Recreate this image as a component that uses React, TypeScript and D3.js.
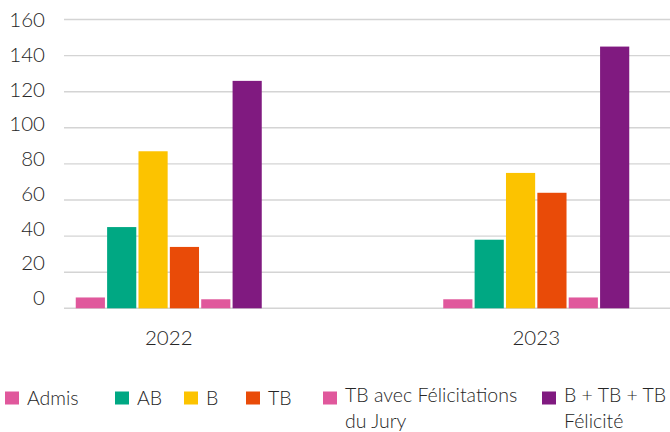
import * as d3 from "d3";
import React from "react";

const years = ["2022", "2023"];
const series = ["Admis", "AB", "B", "TB", "TB avec Félicitations du Jury", "B + TB + TB Félicité"];
const colors = ["#E0589C", "#00A883", "#FCC300", "#E94B08", "#E0589C", "#801A80"];
const values2022 = [6, 45, 87, 34, 5, 126];
const values2023 = [5, 38, 75, 64, 6, 145];
const yTicks = [0, 20, 40, 60, 80, 100, 120, 140, 160];
const legendLines = [["Admis"], ["AB"], ["B"], ["TB"], ["TB avec Félicitations", "du Jury"], ["B + TB + TB", "Félicité"]];

const W = 670;
const H = 432;
const font = "Lato, 'Open Sans', sans-serif";
const ink = "#262626";

const App: React.FC = () => {
  const byYear: Record<string, number[]> = { "2022": values2022, "2023": values2023 };

  const y = d3.scaleLinear().domain([0, 160]).range([308.3, 19.5]);
  // tick labels sit on a slightly tighter spacing than the grid in the original
  const yLabel = d3.scaleLinear().domain([0, 160]).range([297.5, 20]);

  const x0 = d3.scaleBand<string>().domain(years).range([-15, 720]);
  const groupW = 186;
  const x1 = d3.scaleBand<string>().domain(series).range([0, groupW]).paddingInner(0.07);

  const legendX = [5, 115, 184, 246, 323, 542];

  return (
    <svg width={W} height={H} style={{ position: "absolute", left: 0, top: 0 }} fontFamily={font}>
      <rect width={W} height={H} fill="#fff" />
      {yTicks.map((t) => (
        <g key={t}>
          <line x1={64} x2={W} y1={y(t)} y2={y(t)} stroke="#d4d4d4" strokeWidth={1.4} />
          <text x={45} y={yLabel(t)} dy="0.36em" textAnchor="end" fontSize={20.5} fontWeight={300} fill={ink}>
            {t}
          </text>
        </g>
      ))}
      {years.map((yr) => {
        const start = x0(yr)! + (x0.bandwidth() - groupW) / 2;
        return (
          <g key={yr}>
            {series.map((s, i) => {
              const v = byYear[yr][i];
              return (
                <rect
                  key={s}
                  x={start + x1(s)!}
                  y={y(v)}
                  width={x1.bandwidth()}
                  height={y(0) - y(v)}
                  fill={colors[i]}
                />
              );
            })}
            <text
              x={x0(yr)! + x0.bandwidth() / 2}
              y={344.5}
              textAnchor="middle"
              fontSize={20.5}
              fontWeight={300}
              fill={ink}
            >
              {yr}
            </text>
          </g>
        );
      })}
      {series.map((s, i) => {
        const lines = legendLines[i];
        const multi = lines.length > 1;
        const base = multi ? 402 : 405;
        return (
          <g key={s}>
            <rect x={legendX[i]} y={391.5} width={14} height={13} fill={colors[i]} />
            {lines.map((ln, j) => (
              <text key={j} x={legendX[i] + 22} y={base + j * 25.5} fontSize={19.5} fontWeight={300} fill={ink}>
                {ln}
              </text>
            ))}
          </g>
        );
      })}
    </svg>
  );
};

export default App;
